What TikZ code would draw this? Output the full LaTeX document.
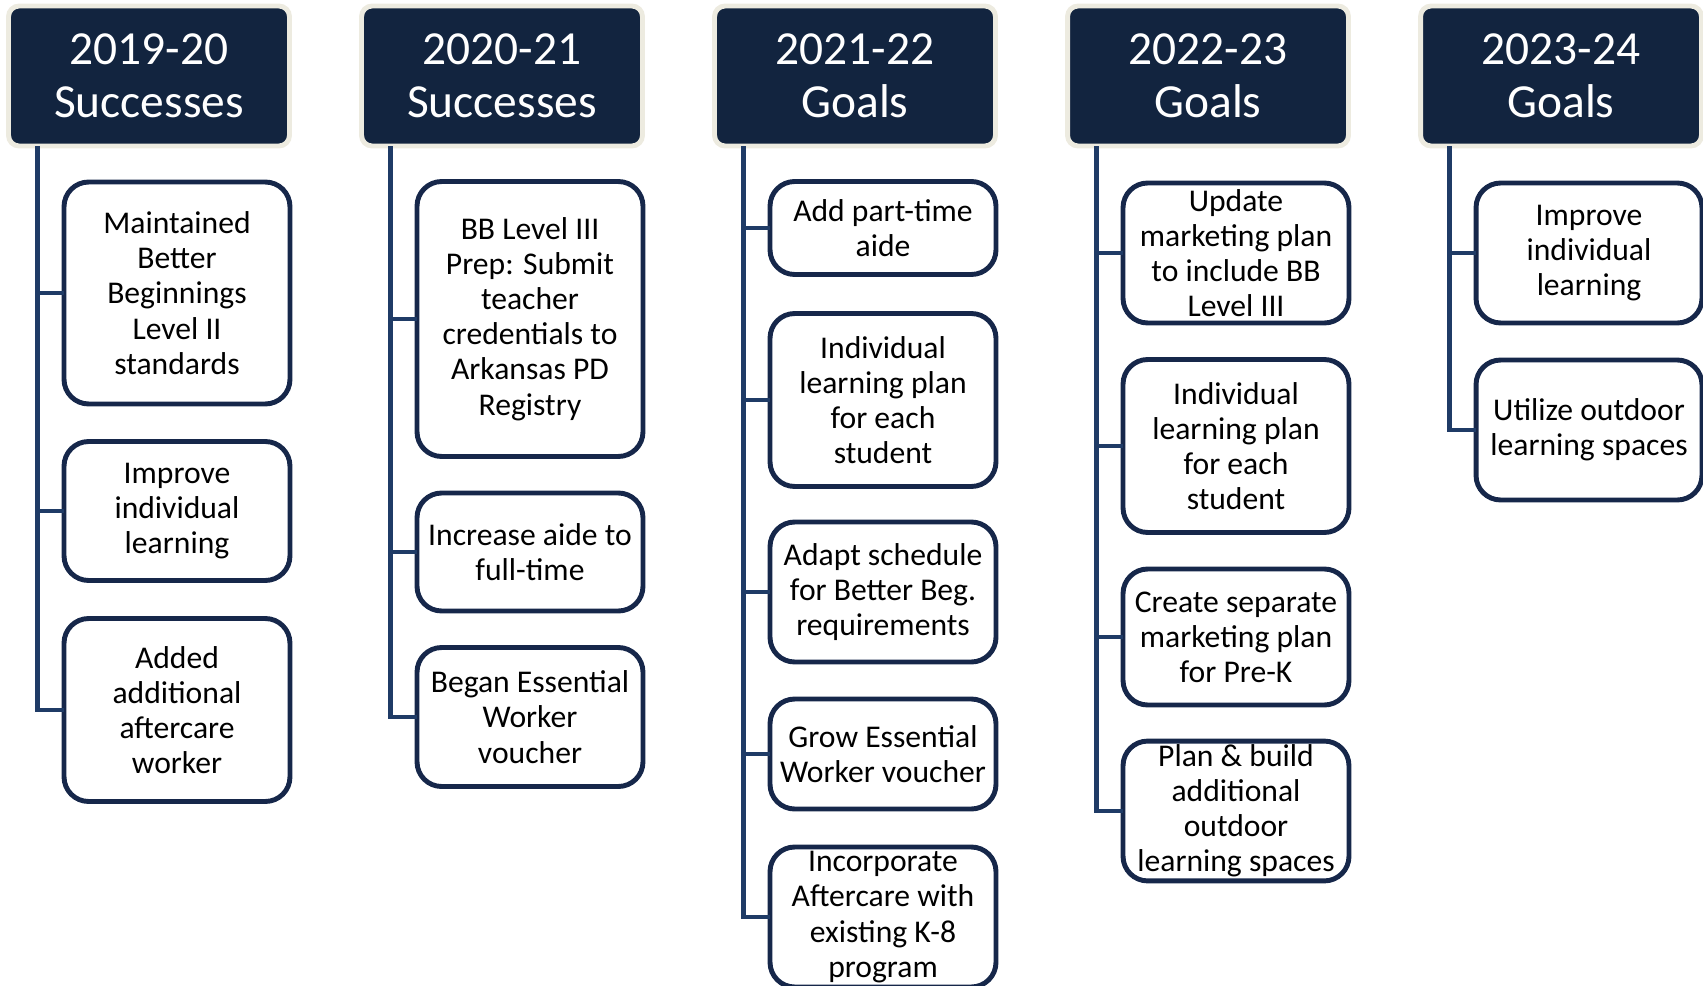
\documentclass[tikz,border=0pt]{standalone}
\usepackage{fontspec}
\setmainfont{Carlito}
\usetikzlibrary{positioning}

\definecolor{navy}{HTML}{12243F}
\definecolor{beige}{HTML}{EDEBE0}
\definecolor{edge}{HTML}{16274A}
\definecolor{trunk}{HTML}{1F3B66}

\begin{document}
\begin{tikzpicture}[x=0.02cm, y=-0.02cm,
  head/.style={rectangle, rounded corners=6pt, fill=navy, draw=beige, line width=2.8pt,
    minimum width=5.62cm, minimum height=2.8cm, text=white, align=center,
    font=\fontsize{27}{30}\selectfont},
  item/.style={rectangle, rounded corners=14pt, draw=edge, line width=2.8pt, fill=white,
    minimum width=4.52cm, inner sep=2pt, align=center, font=\fontsize{18}{20}\selectfont},
  link/.style={draw=trunk, line width=2.8pt, line cap=rect}]
  \useasboundingbox (0,0) rectangle (1703,986);

  % year headers
  \node[head] (h1) at (149,76) {2019-20\\Successes};
  \node[head] (h2) at (502,76) {2020-21\\Successes};
  \node[head] (h3) at (855,76) {2021-22\\Goals};
  \node[head] (h4) at (1208,76) {2022-23\\Goals};
  \node[head] (h5) at (1561,76) {2023-24\\Goals};

  % 2019-20
  \node[item, minimum height=4.44cm] (b11) at (177,293) {Maintained\\Better\\Beginnings\\Level II\\standards};
  \node[item, minimum height=2.78cm] (b12) at (177,511) {Improve\\individual\\learning};
  \node[item, minimum height=3.66cm] (b13) at (177,710) {Added\\additional\\aftercare\\worker};

  % 2020-21
  \node[item, minimum height=5.5cm] (b21) at (530,319) {BB Level III\\Prep: Submit\\teacher\\credentials to\\Arkansas PD\\Registry};
  \node[item, minimum height=2.36cm] (b22) at (530,552) {Increase aide to\\full-time};
  \node[item, minimum height=2.78cm] (b23) at (530,717) {Began Essential\\Worker\\voucher};

  % 2021-22
  \node[item, minimum height=1.86cm] (b31) at (883,228) {Add part-time\\aide};
  \node[item, minimum height=3.46cm] (b32) at (883,400) {Individual\\learning plan\\for each\\student};
  \node[item, minimum height=2.8cm] (b33) at (883,592) {Adapt schedule\\for Better Beg.\\requirements};
  \node[item, minimum height=2.2cm] (b34) at (883,754) {Grow Essential\\Worker voucher};
  \node[item, minimum height=2.8cm] (b35) at (883,917) {Incorporate\\Aftercare with\\existing K-8\\program};

  % 2022-23
  \node[item, minimum height=2.8cm] (b41) at (1236,253) {Update\\marketing plan\\to include BB\\Level III};
  \node[item, minimum height=3.46cm] (b42) at (1236,446) {Individual\\learning plan\\for each\\student};
  \node[item, minimum height=2.72cm] (b43) at (1236,637) {Create separate\\marketing plan\\for Pre-K};
  \node[item, minimum height=2.78cm] (b44) at (1236,811) {Plan \& build\\additional\\outdoor\\learning spaces};

  % 2023-24
  \node[item, minimum height=2.8cm] (b51) at (1589,253) {Improve\\individual\\learning};
  \node[item, minimum height=2.8cm] (b52) at (1589,430) {Utilize outdoor\\learning spaces};

  % connectors
  \draw[link] (h1.south west) ++(31,0) |- (b13.west);
  \draw[link] (h1.south west) ++(31,0) |- (b12.west);
  \draw[link] (h1.south west) ++(31,0) |- (b11.west);
  \draw[link] (h2.south west) ++(31,0) |- (b23.west);
  \draw[link] (h2.south west) ++(31,0) |- (b22.west);
  \draw[link] (h2.south west) ++(31,0) |- (b21.west);
  \draw[link] (h3.south west) ++(31,0) |- (b35.west);
  \draw[link] (h3.south west) ++(31,0) |- (b34.west);
  \draw[link] (h3.south west) ++(31,0) |- (b33.west);
  \draw[link] (h3.south west) ++(31,0) |- (b32.west);
  \draw[link] (h3.south west) ++(31,0) |- (b31.west);
  \draw[link] (h4.south west) ++(31,0) |- (b44.west);
  \draw[link] (h4.south west) ++(31,0) |- (b43.west);
  \draw[link] (h4.south west) ++(31,0) |- (b42.west);
  \draw[link] (h4.south west) ++(31,0) |- (b41.west);
  \draw[link] (h5.south west) ++(31,0) |- (b52.west);
  \draw[link] (h5.south west) ++(31,0) |- (b51.west);
\end{tikzpicture}
\end{document}
